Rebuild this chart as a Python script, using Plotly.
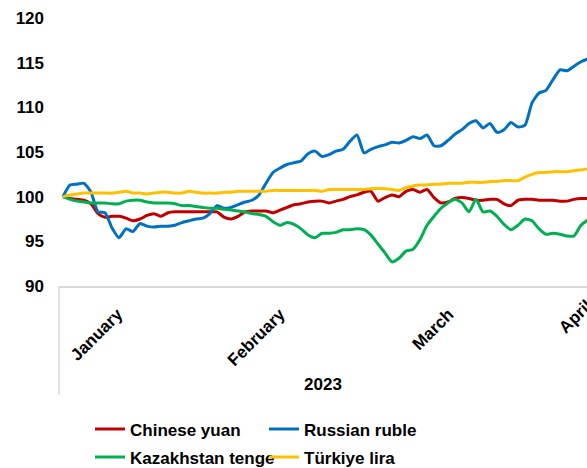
import plotly.graph_objects as go

# observation positions (trading days, Jan-Apr 2023)
obs = list(range(76))

month_labels = ["January", "February", "March"]
month_pos = [7.8, 31.0, 55.1]
extra_month = "April"

yuan = [100.0, 99.8, 99.7, 99.6, 99.2, 98.1, 97.7, 97.8, 97.8, 97.6,
        97.3, 97.5, 97.9, 98.1, 97.8, 98.2, 98.3, 98.3, 98.3, 98.3,
        98.3, 98.3, 98.3, 97.7, 97.5, 97.8, 98.3, 98.4, 98.4, 98.4,
        98.2, 98.5, 98.8, 99.1, 99.2, 99.4, 99.5, 99.5, 99.3, 99.5,
        99.7, 100.0, 100.2, 100.5, 100.6, 99.5, 99.9, 100.2, 100.0, 100.6,
        100.8, 100.5, 100.8, 99.9, 99.3, 99.4, 99.8, 99.9, 99.8, 99.6,
        99.6, 99.7, 99.7, 99.2, 99.0, 99.6, 99.7, 99.7, 99.6, 99.6,
        99.6, 99.5, 99.5, 99.7, 99.8, 99.8]

ruble = [100.0, 101.3, 101.4, 101.5, 100.5, 98.3, 98.2, 96.5, 95.4, 96.4,
         96.1, 97.0, 96.7, 96.6, 96.7, 96.7, 96.8, 97.1, 97.3, 97.5,
         97.6, 98.1, 99.0, 98.7, 98.8, 99.1, 99.4, 99.6, 100.2, 101.5,
         102.7, 103.2, 103.6, 103.8, 104.0, 104.8, 105.1, 104.5, 104.7, 105.1,
         105.3, 106.2, 106.9, 104.9, 105.3, 105.6, 105.8, 106.1, 106.0, 106.3,
         106.7, 106.5, 106.9, 105.7, 105.7, 106.3, 107.0, 107.5, 108.2, 108.5,
         107.7, 108.2, 107.2, 107.5, 108.3, 107.8, 108.0, 110.5, 111.6, 111.9,
         113.1, 114.2, 114.1, 114.6, 115.1, 115.4]

tenge = [100.0, 99.7, 99.5, 99.4, 99.3, 99.3, 99.3, 99.2, 99.2, 99.5,
         99.6, 99.6, 99.4, 99.3, 99.3, 99.3, 99.2, 99.0, 99.0, 98.9,
         98.8, 98.7, 98.7, 98.6, 98.5, 98.4, 98.3, 98.1, 98.0, 97.8,
         97.2, 96.8, 97.1, 96.9, 96.4, 95.7, 95.4, 95.9, 95.9, 96.0,
         96.3, 96.3, 96.4, 96.3, 95.7, 94.7, 93.7, 92.7, 93.1, 93.9,
         94.1, 95.2, 96.8, 97.8, 98.7, 99.3, 99.7, 99.3, 98.3, 99.7,
         98.3, 98.4, 97.8, 96.9, 96.3, 96.8, 97.5, 97.3, 96.4, 95.8,
         95.9, 95.8, 95.6, 95.6, 96.8, 97.4]

lira = [100.0, 100.2, 100.3, 100.4, 100.4, 100.4, 100.4, 100.4, 100.5, 100.6,
        100.4, 100.4, 100.3, 100.4, 100.5, 100.5, 100.4, 100.4, 100.6, 100.5,
        100.4, 100.4, 100.4, 100.5, 100.5, 100.6, 100.6, 100.6, 100.6, 100.6,
        100.7, 100.7, 100.7, 100.7, 100.7, 100.7, 100.7, 100.6, 100.8, 100.8,
        100.8, 100.8, 100.8, 100.8, 100.9, 100.9, 100.9, 100.8, 100.7, 101.0,
        101.2, 101.3, 101.3, 101.4, 101.4, 101.5, 101.5, 101.5, 101.6, 101.6,
        101.6, 101.7, 101.7, 101.8, 101.8, 101.8, 102.2, 102.5, 102.7, 102.7,
        102.8, 102.8, 102.8, 102.9, 103.0, 103.1]

series = [
    ("Chinese yuan", yuan, "#C00000", "legend"),
    ("Russian ruble", ruble, "#0070C0", "legend"),
    ("Kazakhstan tenge", tenge, "#00B050", "legend2"),
    ("Türkiye lira", lira, "#FFC000", "legend2"),
]

FONT = "Liberation Sans, Arial, sans-serif"
bold = dict(family=FONT, size=17, color="#000000", weight="bold")

fig = go.Figure()
for name, vals, col, leg in series:
    fig.add_trace(go.Scatter(x=obs, y=vals, name=name, mode="lines", legend=leg,
                             line=dict(color=col, width=3, shape="spline", smoothing=0.6)))

W, H = 587, 468
L, R, T, B = 59, 0, 18, 182
plot_h = H - T - B
plot_w = W - L - R

legend_common = dict(orientation="h", xref="container", yref="container",
                     x=90 / W, xanchor="left", yanchor="top",
                     font=bold, entrywidth=129, entrywidthmode="pixels",
                     bgcolor="rgba(0,0,0,0)")

fig.update_layout(
    width=W, height=H,
    margin=dict(l=L, r=R, t=T, b=B),
    paper_bgcolor="white", plot_bgcolor="white",
    showlegend=True,
    legend=dict(legend_common, y=1 - 411.5 / H),
    legend2=dict(legend_common, y=1 - 439.5 / H),
)
fig.update_xaxes(
    range=[-4 / 7, -4 / 7 + plot_w / 7], automargin=False,
    tickmode="array", tickvals=month_pos, ticktext=month_labels,
    tickangle=-45, tickfont=bold, ticks="", ticklabelstandoff=10,
    showline=True, linecolor="#D9D9D9", linewidth=1.5,
    showgrid=False, zeroline=False,
    title=dict(text="2023", font=bold, standoff=9),
)
fig.update_yaxes(
    range=[90, 120], tickvals=[90, 95, 100, 105, 110, 115, 120], automargin=False,
    tickfont=bold, ticks="", ticklabelstandoff=14,
    showline=False, showgrid=False, zeroline=False,
)
# vertical separator of the category axis
fig.add_shape(type="line", xref="paper", yref="paper", x0=0, x1=0,
              y0=0, y1=-109 / plot_h, line=dict(color="#D9D9D9", width=1.5))
# label of the month that continues past the right edge
fig.add_annotation(xref="paper", yref="paper", x=(599 - L) / plot_w,
                   y=-7 / plot_h, xanchor="right", yanchor="top",
                   text=extra_month, textangle=-45, showarrow=False, font=bold)

# the page is exactly the window size: drop the default body margin
fig.write_html("out.html",
               config={"displayModeBar": False},
               post_script="document.body.style.margin='0';"
                           "document.body.style.overflow='hidden';")
